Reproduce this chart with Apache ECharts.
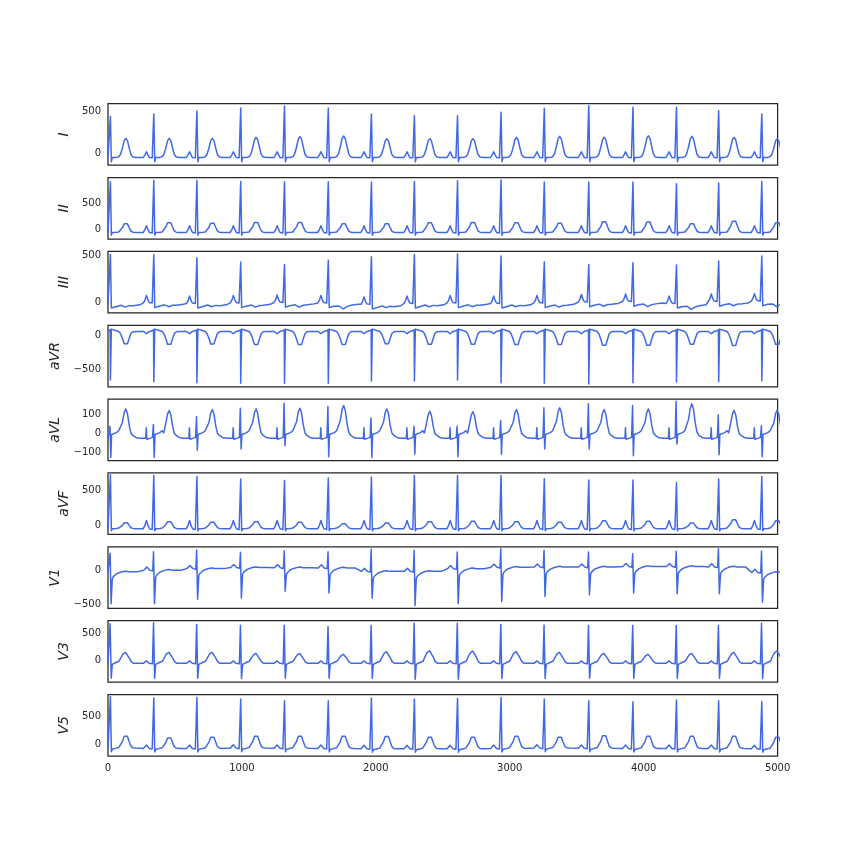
<!DOCTYPE html>
<html>
<head>
<meta charset="utf-8">
<script src="https://cdn.jsdelivr.net/npm/echarts@6/dist/echarts.min.js"></script>
<style>html,body{margin:0;padding:0;background:#fff}#c{width:864px;height:864px}</style>
</head>
<body>
<div id="c"></div>
<script>
// ---- data ----
const leads = ['I','II','III','aVR','aVL','aVF','V1','V3','V5'];
const beats = [18, 342, 664, 991, 1318, 1645, 1967, 2288, 2610, 2935, 3258, 3590, 3920, 4245, 4560, 4882];
const xTicks = [0, 1000, 2000, 3000, 4000, 5000];

// Lead I
const baseI = -52;
const rI = [437, 468, 504, 540, 563, 540, 468, 448, 448, 488, 536, 565, 548, 548, 508, 468];
const tI = [176, 176, 176, 188, 196, 204, 172, 172, 172, 188, 200, 190, 206, 200, 188, 172];
const shapeI = [[-78,'b',0],[-66,'b',30],[-55,'b',68],[-44,'b',30],[-34,'b',0],[-12,'b',-5],[-5,'b',-20],[0,'R'],[7,'b',-52],[14,'b',0],[45,'b',0],[62,'b',8],[75,'t',0.15],[90,'t',0.5],[103,'t',0.88],[115,'t',1],[127,'t',0.88],[140,'t',0.5],[153,'t',0.15],[168,'b',4],[190,'b',0]];

// Lead II
const baseII = -61;
const rII = [905, 935, 935, 912, 905, 905, 899, 912, 925, 937, 899, 899, 899, 867, 880, 912];
const tII = [126, 150, 139, 158, 155, 126, 126, 152, 158, 152, 139, 171, 164, 126, 184, 152];
const shapeII = [[-80,'b',0],[-68,'b',45],[-55,'b',128],[-42,'b',45],[-32,'b',0],[-12,'b',-10],[0,'R'],[7,'b',-50],[14,'b',0],[45,'b',5],[62,'b',10],[75,'t',0.15],[90,'t',0.5],[103,'t',0.88],[115,'t',1],[127,'t',0.88],[140,'t',0.5],[153,'t',0.15],[168,'b',5],[190,'b',0]];

// Lead III
const baseIII = [-15, -10, -15, -10, -5, -10, -25, -15, -10, -15, -10, 0, 5, -15, 5, 10];
const rIII = [510, 510, 475, 428, 403, 446, 485, 510, 517, 493, 432, 403, 421, 396, 439, 493];
const tIII = [-55, -50, -50, -55, -55, -75, -60, -50, -50, -50, -55, -45, -50, -78, -40, -50];
const shapeIII = [[-78,'b',0],[-66,'b',30],[-55,'b',80],[-44,'b',30],[-34,'b',5],[-12,'b',0],[0,'R'],[7,'b',-50],[14,'b',-35],[40,'b',-35],[80,'t',0.5],[110,'t',1],[140,'t',0.6],[170,'b',-25],[220,'b',-15]];

// aVR
const baseAVR = 65;
const rAVR = [-665, -690, -705, -715, -715, -715, -680, -680, -665, -705, -715, -725, -705, -695, -690, -675];
const tAVR = [-145, -155, -150, -160, -160, -160, -145, -155, -155, -160, -160, -170, -170, -155, -175, -155];
const shapeAVR = [[-78,'b',0],[-66,'b',-15],[-55,'b',-35],[-44,'b',-15],[-34,'b',0],[-18,'b',5],[-7,'b',35],[-2,'b',25],[0,'R'],[7,'b',35],[15,'b',25],[40,'b',15],[62,'b',0],[75,'t',0.15],[90,'t',0.5],[103,'t',0.88],[115,'t',1],[127,'t',0.88],[140,'t',0.5],[153,'t',0.15],[168,'b',-5],[190,'b',0]];

// aVL
const baseAVL = -28;
const rAVL = [35, 45, 86, 130, 156, 139, 79, 35, 35, 65, 132, 153, 144, 167, 96, 38];
const sAVL = [-128, -128, -90, -84, -66, -125, -128, -111, -125, -111, -84, -84, -119, -58, -114, -125];
const tAVL = [126, 118, 123, 126, 130, 144, 126, 114, 112, 123, 132, 123, 126, 153, 118, 120];
const shapeAVL = [[-78,'b',0],[-60,'b',0],[-56,'b',55],[-52,'b',-5],[-45,'b',5],[-30,'b',0],[-10,'b',5],[-3,'R'],[3,'S'],[9,'b',20],[20,'b',25],[45,'b',30],[62,'b',40],[75,'t',0.2],[90,'t',0.55],[103,'t',0.88],[115,'t',1],[127,'t',0.85],[140,'t',0.45],[153,'t',0.18],[168,'b',15],[190,'b',5],[220,'b',0]];

// aVF
const baseAVF = -50;
const rAVF = [731, 721, 707, 668, 649, 683, 697, 721, 721, 721, 673, 654, 654, 620, 668, 707];
const tAVF = [48, 67, 58, 67, 58, 34, 43, 67, 72, 67, 58, 82, 72, 43, 96, 80];
const shapeAVF = [[-80,'b',0],[-68,'b',40],[-55,'b',120],[-42,'b',40],[-32,'b',0],[-12,'b',-10],[0,'R'],[7,'b',-30],[14,'b',0],[45,'b',5],[62,'b',10],[75,'t',0.15],[90,'t',0.5],[103,'t',0.88],[115,'t',1],[127,'t',0.88],[140,'t',0.5],[153,'t',0.15],[168,'b',5],[190,'b',0]];

// V1
const baseV1 = [-22, 2, 25, 40, 38, 35, -15, -15, 24, 45, 48, 48, 55, 55, 50, -30];
const rV1 = [250, 270, 295, 262, 285, 271, 305, 291, 266, 315, 291, 266, 242, 276, 315, 276];
const sV1 = [-486, -486, -420, -400, -303, -330, -403, -510, -486, -451, -379, -354, -330, -340, -340, -461];
const shapeV1 = [[-75,'b',0],[-62,'b',25],[-52,'b',45],[-42,'b',20],[-30,'b',0],[-8,'b',-10],[-2,'R'],[5,'S'],[14,'b',-100],[22,'b',-70],[45,'b',-30],[70,'b',-10],[95,'b',5],[115,'b',10],[140,'b',0],[200,'b',0]];

// V3
const baseV3 = -62;
const rV3 = [680, 700, 668, 650, 650, 630, 650, 690, 690, 668, 655, 645, 645, 645, 645, 690];
const sV3 = [-343, -343, -340, -345, -340, -340, -340, -360, -360, -345, -345, -340, -340, -345, -340, -345];
const tV3 = [144, 144, 144, 125, 125, 106, 156, 175, 169, 156, 144, 125, 106, 125, 144, 170];
const shapeV3 = [[-78,'b',0],[-65,'b',20],[-55,'b',45],[-45,'b',20],[-35,'b',0],[-10,'b',-10],[-2,'R'],[6,'S'],[14,'b',-20],[25,'b',0],[45,'b',20],[65,'b',40],[80,'t',0.55],[95,'t',0.85],[113,'t',1],[127,'t',0.85],[140,'t',0.5],[155,'t',0.15],[170,'b',3],[190,'b',0]];

// V5
const baseV5 = [-75, -80, -80, -75, -78, -80, -85, -85, -85, -80, -75, -78, -80, -80, -80, -85];
const rV5 = [871, 841, 853, 823, 792, 792, 841, 823, 835, 853, 823, 792, 774, 804, 792, 780];
const tV5 = [170, 134, 152, 170, 170, 170, 170, 152, 152, 170, 152, 183, 170, 170, 170, 150];
const shapeV5 = [[-78,'b',0],[-66,'b',25],[-55,'b',60],[-44,'b',25],[-34,'b',0],[-12,'b',-10],[0,'R'],[7,'b',-65],[14,'b',-20],[45,'b',0],[62,'b',10],[75,'t',0.15],[90,'t',0.5],[103,'t',0.88],[115,'t',1],[127,'t',0.88],[140,'t',0.5],[153,'t',0.15],[168,'b',5],[190,'b',0]];

// y-axis tick labels
const yTicks = [[0,500],[0,500],[0,500],[-500,0],[-100,0,100],[0,500],[-500,0],[0,500],[0,500]];

// ---- build series from the read values ----
function build(shape, base, R, T, S) {
  const pts = [];
  beats.forEach((b, i) => {
    const bv = Array.isArray(base) ? base[i] : base;
    shape.forEach(([off, kind, v]) => {
      const x = b + off;
      if (x < 0) return;
      let y;
      if (kind === 'b') y = bv + v;
      else if (kind === 'R') y = R[i];
      else if (kind === 'S') y = S[i];
      else if (kind === 't') y = bv + (T[i] - bv) * v;
      pts.push([x, y]);
    });
  });
  if (pts[0][0] > 0) {
    const b0 = Array.isArray(base) ? base[0] : base;
    pts.unshift([0, b0]);
  }
  return pts;
}

const seriesData = [
  build(shapeI, baseI, rI, tI),
  build(shapeII, baseII, rII, tII),
  build(shapeIII, baseIII, rIII, tIII),
  build(shapeAVR, baseAVR, rAVR, tAVR),
  build(shapeAVL, baseAVL, rAVL, tAVL, sAVL),
  build(shapeAVF, baseAVF, rAVF, tAVF),
  build(shapeV1, baseV1, rV1, null, sV1),
  build(shapeV3, baseV3, rV3, tV3, sV3),
  build(shapeV5, baseV5, rV5, tV5)
];

// axis ranges (layout)
const yRange = [[-146,591],[-186,985],[-117,542],[-767,158],[-145,178],[-133,757],[-552,342],[-416,738],[-220,906]];

const fmt = v => (v < 0 ? '\u2212' + Math.abs(v) : String(v));
const top0 = 103.7, h = 61.54, step = 73.85;
const txt = '#262626';
const grids = [], xAxes = [], yAxes = [], series = [];
leads.forEach((name, k) => {
  grids.push({left: 108, width: 669.6, top: top0 + k * step, height: h, show: true,
    borderColor: txt, borderWidth: 1.25, backgroundColor: 'transparent', containLabel: false});
  xAxes.push({type: 'value', gridIndex: k, min: 0, max: 5000, interval: 1000,
    axisLine: {show: false}, axisTick: {show: false}, splitLine: {show: false},
    axisLabel: {show: k === leads.length - 1, fontSize: 10, color: txt, margin: 7, fontFamily: 'DejaVu Sans',
      customValues: xTicks, formatter: fmt}});
  yAxes.push({type: 'value', gridIndex: k, min: yRange[k][0], max: yRange[k][1],
    axisLine: {show: false}, axisTick: {show: false}, splitLine: {show: false},
    axisLabel: {customValues: yTicks[k], fontSize: 10, color: txt, margin: 7, fontFamily: 'DejaVu Sans', formatter: fmt},
    name: name, nameLocation: 'middle', nameGap: 35, nameRotate: 90,
    nameTextStyle: {fontStyle: 'italic', fontSize: 14, color: txt, fontFamily: 'DejaVu Sans'}});
  series.push({type: 'line', xAxisIndex: k, yAxisIndex: k, data: seriesData[k],
    showSymbol: false, symbol: 'none', clip: true, animation: false,
    lineStyle: {color: '#4169e1', width: 1.5, join: 'round'}});
});

const chart = echarts.init(document.getElementById('c'), null, {renderer: 'canvas'});
chart.setOption({backgroundColor: '#fff', animation: false, grid: grids, xAxis: xAxes, yAxis: yAxes, series: series});
</script>
</body>
</html>
